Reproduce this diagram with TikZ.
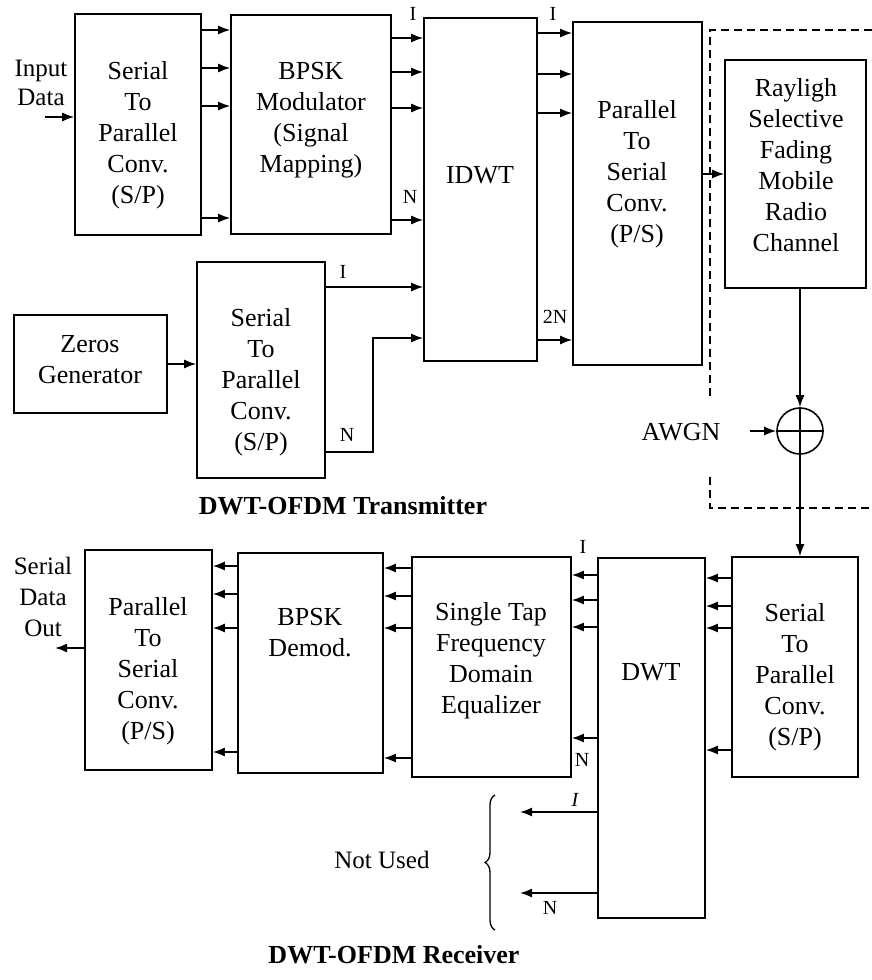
\documentclass[tikz,border=0pt]{standalone}
\usepackage{fontspec}
\setmainfont{Liberation Serif}
\usetikzlibrary{arrows.meta,decorations.pathreplacing}
\begin{document}
\begin{tikzpicture}[x=1pt,y=-1pt,
  box/.style={draw, line width=1.6pt, inner sep=0pt},
  txt/.style={align=center, font=\fontsize{26}{31}\selectfont, inner sep=0pt},
  lbl/.style={font=\fontsize{20}{22}\selectfont, inner sep=0pt},
  ttl/.style={font=\bfseries\fontsize{26}{30}\selectfont, inner sep=0pt},
  arr/.style={line width=1.6pt, -{Latex[length=12pt,width=9pt]}},
  ln/.style={line width=1.6pt},
  dashline/.style={line width=1.5pt, dash pattern=on 8pt off 5pt}]
\useasboundingbox (0,0) rectangle (872,980);
\fill[white] (0,0) rectangle (872,980);

% ---------- transmitter boxes ----------
\node[box, minimum width=126pt, minimum height=221pt] (sp1) at (138,124.5) {};
\node[box, minimum width=160pt, minimum height=219pt] (bpsk) at (311,124.5) {};
\node[box, minimum width=113pt, minimum height=343pt] (idwt) at (480.5,189.5) {};
\node[box, minimum width=129pt, minimum height=343pt] (ps1) at (637.5,193.5) {};
\node[box, minimum width=141pt, minimum height=228pt] (ray) at (795.5,174) {};
\node[box, minimum width=153pt, minimum height=98pt] (zeros) at (90.5,364) {};
\node[box, minimum width=128pt, minimum height=216pt] (sp2) at (261,370) {};

\node[txt] (sp1t) at (138,135) {Serial\\To\\Parallel\\Conv.\\(S/P)};
\node[txt] (bpskt) at (311,120) {BPSK\\Modulator\\(Signal\\Mapping)};
\node[txt] (idwtt) at (480,175) {IDWT};
\node[txt] (ps1t) at (637,174) {Parallel\\To\\Serial\\Conv.\\(P/S)};
\node[txt] (rayt) at (796,165) {Rayligh\\Selective\\Fading\\Mobile\\Radio\\Channel};
\node[txt] (zerost) at (90,360) {Zeros\\Generator};
\node[txt] (sp2t) at (261,382) {Serial\\To\\Parallel\\Conv.\\(S/P)};

% sum junction
\node[draw, circle, line width=1.6pt, minimum size=46pt, inner sep=0pt] (sum) at (800,431) {};
\draw[ln] (sum.north) -- (sum.south) (sum.west) -- (sum.east);

% ---------- receiver boxes ----------
\node[box, minimum width=126pt, minimum height=220pt] (sprx) at (795,667) {};
\node[box, minimum width=107pt, minimum height=360pt] (dwt) at (651.5,738) {};
\node[box, minimum width=159pt, minimum height=220pt] (eq) at (491.5,667) {};
\node[box, minimum width=145pt, minimum height=220pt] (bdem) at (310.5,663) {};
\node[box, minimum width=127pt, minimum height=220pt] (psrx) at (148.5,660) {};

\node[txt] (sprxt) at (795,677) {Serial\\To\\Parallel\\Conv.\\(S/P)};
\node[txt] (dwtt) at (651,672) {DWT};
\node[txt] (eqt) at (491,661) {Single Tap\\Frequency\\Domain\\Equalizer};
\node[txt] (bdemt) at (310,633) {BPSK\\Demod.};
\node[txt] (psrxt) at (148,671) {Parallel\\To\\Serial\\Conv.\\(P/S)};

% ---------- free texts ----------
\node[txt, font=\fontsize{25}{29}\selectfont] (indata) at (41,83) {Input\\Data};
\node[txt, font=\fontsize{25}{31}\selectfont] (outdata) at (43,597) {Serial\\Data\\Out};
\node[txt] (awgn) at (681,432) {AWGN};
\node[txt, font=\fontsize{25}{29}\selectfont] (notused) at (382,860) {Not Used};
\node[ttl] (ttx) at (343,506) {DWT-OFDM Transmitter};
\node[ttl] (trx) at (394,955) {DWT-OFDM Receiver};

% ---------- coordinates ----------
\coordinate (inpt) at (45,117);
\coordinate (outpt) at (55,648);
\coordinate (awgnin) at (750,431);
\coordinate (nb) at (373,452);
\coordinate (nu1) at (520,812);
\coordinate (nu2) at (520,893);

% ---------- transmitter connectors ----------
\draw[arr] (inpt) -- (sp1.west |- inpt);
\foreach \y in {30,68,106,218} \draw[arr] (sp1.east |- 0,\y) -- (bpsk.west |- 0,\y);
\foreach \y in {38,72,108,220} \draw[arr] (bpsk.east |- 0,\y) -- (idwt.west |- 0,\y);
\foreach \y in {33,74,113,340} \draw[arr] (idwt.east |- 0,\y) -- (ps1.west |- 0,\y);
\draw[arr] (ps1.east |- ray.center) -- (ray.west);
\draw[arr] (zeros.east) -- (sp2.west |- zeros.east);
\draw[arr] (sp2.east |- 0,287) -- (idwt.west |- 0,287);
\draw[arr] (sp2.east |- nb) -- (nb) |- (idwt.west |- 0,338);
\draw[arr] (ray.south -| sum.north) -- (sum.north);
\draw[arr] (awgnin) -- (sum.west);
\draw[arr] (sum.south) -- (sum.south |- sprx.north);

% labels
\node[lbl] (l1) at (413,14) {I};
\node[lbl] (l2) at (410,197) {N};
\node[lbl] (l3) at (553,14) {I};
\node[lbl] (l4) at (555,317) {2N};
\node[lbl] (l5) at (343,272) {I};
\node[lbl] (l6) at (347,435) {N};

% dashed channel region
\draw[dashline] (872,30) -- (710,30) -- (710,400);
\draw[dashline] (710,477) -- (710,508) -- (872,508);

% ---------- receiver connectors ----------
\foreach \y in {578,606,628,750} \draw[arr] (sprx.west |- 0,\y) -- (dwt.east |- 0,\y);
\foreach \y in {575,600,627,738} \draw[arr] (dwt.west |- 0,\y) -- (eq.east |- 0,\y);
\foreach \y in {568,596,628,758} \draw[arr] (eq.west |- 0,\y) -- (bdem.east |- 0,\y);
\foreach \y in {566,594,628,752} \draw[arr] (bdem.west |- 0,\y) -- (psrx.east |- 0,\y);
\draw[arr] (psrx.west |- outpt) -- (outpt);
\draw[arr] (dwt.west |- nu1) -- (nu1);
\draw[arr] (dwt.west |- nu2) -- (nu2);

\node[lbl] (l7) at (583,547) {I};
\node[lbl] (l8) at (582,760) {N};
\node[lbl] (l9) at (575,800) {\itshape I};
\node[lbl] (l10) at (550,908) {N};

\draw[line width=1.3pt, decorate, decoration={brace, amplitude=10pt}] (495,930) -- (495,795);
\end{tikzpicture}
\end{document}
